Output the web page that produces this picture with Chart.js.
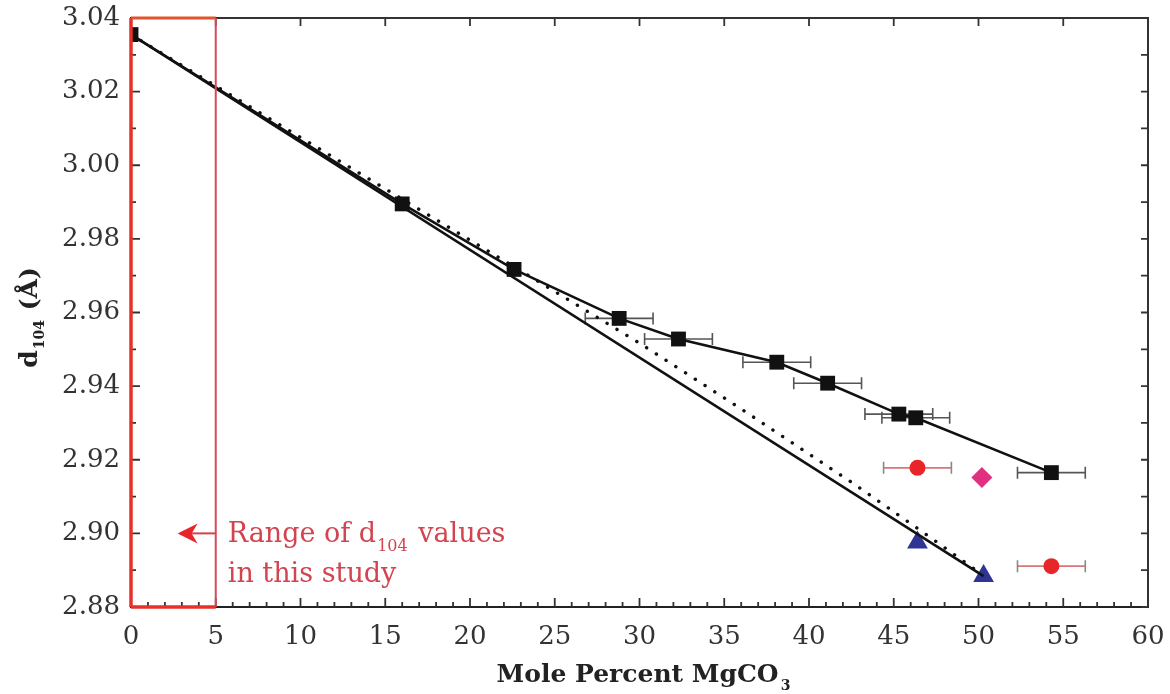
<!DOCTYPE html>
<html>
<head>
<meta charset="utf-8">
<title>d104 vs Mole Percent MgCO3</title>
<script src="https://cdn.jsdelivr.net/npm/chart.js@4/dist/chart.umd.min.js"></script>
<style>
  html, body { margin: 0; padding: 0; background: #fff; }
  #wrap { width: 1170px; height: 694px; }
</style>
</head>
<body>
<div id="wrap"><canvas id="chart" width="1170" height="694"></canvas></div>
<script>
// black squares (measured), with horizontal error (mol %)
const sqX = [0, 16.0, 22.6, 28.8, 32.3, 38.1, 41.1, 45.3, 46.3, 54.3];
const sqY = [3.0355, 2.9895, 2.9717, 2.9584, 2.9528, 2.9465, 2.9408, 2.9324, 2.9314, 2.9165];
const sqErr = [0, 0, 0, 2, 2, 2, 2, 2, 2, 2];

// red circles
const circX = [46.4, 54.3];
const circY = [2.9178, 2.8911];
const circErr = [2, 2];

// blue triangles
const triX = [46.4, 50.3];
const triY = [2.8975, 2.8884];

// magenta diamond
const diaX = [50.2];
const diaY = [2.9152];

// straight solid line (calcite -> dolomite end member)
const lineX = [0, 50.3];
const lineY = [3.0355, 2.8884];

// dotted curve
const dotX = [0, 16, 23.9, 30.1, 36.1, 42.6, 47.1, 50];
const dotY = [3.0355, 2.9908, 2.9688, 2.9514, 2.9335, 2.9136, 2.8991, 2.8895];

// axis ticks
const xTicks = [0, 5, 10, 15, 20, 25, 30, 35, 40, 45, 50, 55, 60];
const yTicks = [2.88, 2.90, 2.92, 2.94, 2.96, 2.98, 3.00, 3.02, 3.04];

const pts = (xs, ys) => xs.map((v, i) => ({ x: v, y: ys[i] }));

const SERIF = "'DejaVu Serif', 'Liberation Serif', serif";

// inner ticks, frame, red box, error bars
const decor = {
  id: 'decor',
  beforeDatasetsDraw(chart) {
    const { ctx, chartArea: a, scales: { x, y } } = chart;
    ctx.save();

    // top + right frame
    ctx.strokeStyle = '#333';
    ctx.lineWidth = 2;
    ctx.beginPath();
    ctx.moveTo(a.left, a.top);
    ctx.lineTo(a.right, a.top);
    ctx.lineTo(a.right, a.bottom);
    ctx.stroke();

    // x ticks: majors bottom+top, minors bottom
    ctx.lineWidth = 1.8;
    ctx.strokeStyle = '#333';
    ctx.beginPath();
    for (let v = xTicks[0]; v <= xTicks[xTicks.length - 1]; v += 1) {
      const px = x.getPixelForValue(v);
      const major = xTicks.includes(v);
      const len = major ? 9 : 5;
      ctx.moveTo(px, a.bottom);
      ctx.lineTo(px, a.bottom - len);
      if (major) {
        ctx.moveTo(px, a.top);
        ctx.lineTo(px, a.top + 8);
      }
    }
    // y ticks: majors + minors on both sides
    for (let i = 0; i < yTicks.length; i++) {
      const vals = [yTicks[i]];
      if (i < yTicks.length - 1) vals.push((yTicks[i] + yTicks[i + 1]) / 2);
      vals.forEach((v, k) => {
        const py = y.getPixelForValue(v);
        const len = k === 0 ? 9 : 5;
        ctx.moveTo(a.left, py);
        ctx.lineTo(a.left + len, py);
        ctx.moveTo(a.right, py);
        ctx.lineTo(a.right - 7, py);
      });
    }
    ctx.stroke();

    // error bars
    const bars = (xs, ys, es, lineCol, capCol) => {
      xs.forEach((v, i) => {
        if (!es[i]) return;
        const py = y.getPixelForValue(ys[i]);
        const l = x.getPixelForValue(v - es[i]);
        const r = x.getPixelForValue(v + es[i]);
        ctx.lineWidth = 1.6;
        ctx.strokeStyle = lineCol;
        ctx.beginPath();
        ctx.moveTo(l, py); ctx.lineTo(r, py);
        ctx.stroke();
        ctx.strokeStyle = capCol;
        ctx.beginPath();
        ctx.moveTo(l, py - 6); ctx.lineTo(l, py + 6);
        ctx.moveTo(r, py - 6); ctx.lineTo(r, py + 6);
        ctx.stroke();
      });
    };
    bars(sqX, sqY, sqErr, '#555', '#555');
    bars(circX, circY, circErr, '#d9767a', '#888');

    ctx.restore();
  },
  afterDatasetsDraw(chart) {
    const { ctx, chartArea: a, scales: { x, y } } = chart;
    ctx.save();
    // red box marking the studied range (0-5 mol %)
    const l = x.getPixelForValue(0), r = x.getPixelForValue(5);
    ctx.lineWidth = 2;
    ctx.strokeStyle = '#d9475a';
    ctx.beginPath();
    ctx.moveTo(r, a.top); ctx.lineTo(r, a.bottom);
    ctx.stroke();
    ctx.lineWidth = 3.5;
    ctx.strokeStyle = '#e8302a';
    ctx.beginPath();
    ctx.moveTo(l, a.top); ctx.lineTo(l, a.bottom);
    ctx.moveTo(l, a.bottom); ctx.lineTo(r, a.bottom);
    ctx.stroke();
    ctx.strokeStyle = '#e2542e';
    ctx.lineWidth = 3;
    ctx.beginPath();
    ctx.moveTo(l, a.top); ctx.lineTo(r, a.top);
    ctx.stroke();

    // arrow + label
    const ay = y.getPixelForValue(2.90);
    const tip = x.getPixelForValue(2.75);
    ctx.strokeStyle = '#d8404c';
    ctx.fillStyle = '#e8262a';
    ctx.lineWidth = 2;
    ctx.beginPath();
    ctx.moveTo(r, ay); ctx.lineTo(tip + 12, ay);
    ctx.stroke();
    ctx.beginPath();
    ctx.moveTo(tip, ay);
    ctx.lineTo(tip + 20, ay - 10);
    ctx.lineTo(tip + 14, ay);
    ctx.lineTo(tip + 20, ay + 10);
    ctx.closePath();
    ctx.fill();

    ctx.fillStyle = '#d2444f';
    ctx.textBaseline = 'alphabetic';
    ctx.textAlign = 'left';
    let tx = r + 12;
    const b1 = ay + 9, b2 = ay + 49;
    ctx.font = '27px ' + SERIF;
    ctx.fillText('Range of d', tx, b1);
    tx += ctx.measureText('Range of d').width + 1;
    ctx.font = '16px ' + SERIF;
    ctx.fillText('104', tx, b1 + 9);
    tx += ctx.measureText('104').width + 2;
    ctx.font = '27px ' + SERIF;
    ctx.fillText(' values', tx, b1);
    ctx.fillText('in this study', r + 12, b2);
    ctx.restore();
  },
  afterDraw(chart) {
    const { ctx, chartArea: a } = chart;
    ctx.save();
    ctx.fillStyle = '#222';
    ctx.textBaseline = 'alphabetic';
    ctx.textAlign = 'left';

    // x title with subscript
    const big = 'bold 25px ' + SERIF, small = 'bold 14px ' + SERIF;
    ctx.font = big;
    const w1 = ctx.measureText('Mole Percent MgCO').width;
    ctx.font = small;
    const w2 = ctx.measureText('3').width;
    let sx = (a.left + a.right) / 2 - (w1 + w2 + 2) / 2 + 4;
    ctx.font = big;
    ctx.fillText('Mole Percent MgCO', sx, 682);
    ctx.font = small;
    ctx.fillText('3', sx + w1 + 2, 690);

    // y title, rotated
    ctx.translate(37, (a.top + a.bottom) / 2 + 5);
    ctx.rotate(-Math.PI / 2);
    ctx.font = big;
    const d = ctx.measureText('d').width;
    const par = ctx.measureText(' (Å)').width;
    ctx.font = small;
    const sub = ctx.measureText('104').width;
    let ox = -(d + sub + par + 2) / 2;
    ctx.font = big;
    ctx.fillText('d', ox, 0);
    ctx.font = small;
    ctx.fillText('104', ox + d + 1, 7);
    ctx.font = big;
    ctx.fillText(' (Å)', ox + d + sub + 2, 0);
    ctx.restore();
  }
};

new Chart(document.getElementById('chart'), {
  type: 'scatter',
  data: {
    datasets: [
      {
        label: 'dotted',
        type: 'line',
        data: pts(dotX, dotY),
        borderColor: '#111',
        borderWidth: 3.4,
        borderDash: [0.1, 11.5],
        borderCapStyle: 'round',
        pointRadius: 0,
        fill: false
      },
      {
        label: 'straight',
        type: 'line',
        data: pts(lineX, lineY),
        borderColor: '#111',
        borderWidth: 2.6,
        pointRadius: 0,
        fill: false
      },
      {
        label: 'squares',
        type: 'line',
        data: pts(sqX, sqY),
        borderColor: '#111',
        borderWidth: 2.6,
        pointStyle: 'rect',
        pointRadius: 10.5,
        pointBackgroundColor: '#111',
        pointBorderColor: '#111',
        pointBorderWidth: 0,
        fill: false
      },
      {
        label: 'circles',
        data: pts(circX, circY),
        pointStyle: 'circle',
        pointRadius: 8,
        pointBackgroundColor: '#e8262a',
        pointBorderColor: '#e8262a',
        pointBorderWidth: 0
      },
      {
        label: 'triangles',
        data: pts(triX, triY),
        pointStyle: 'triangle',
        pointRadius: 12,
        pointBackgroundColor: '#2f3593',
        pointBorderColor: '#2f3593',
        pointBorderWidth: 0
      },
      {
        label: 'diamond',
        data: pts(diaX, diaY),
        pointStyle: 'rectRot',
        pointRadius: 10.5,
        pointBackgroundColor: '#e0307f',
        pointBorderColor: '#e0307f',
        pointBorderWidth: 0
      }
    ]
  },
  options: {
    responsive: false,
    animation: false,
    events: [],
    layout: { padding: { left: 0, top: 18, right: 22, bottom: 0 } },
    plugins: {
      legend: { display: false },
      tooltip: { enabled: false }
    },
    scales: {
      x: {
        type: 'linear',
        min: xTicks[0],
        max: xTicks[xTicks.length - 1],
        grid: { display: false, drawTicks: false },
        border: { display: true, color: '#222', width: 2 },
        ticks: {
          stepSize: 5,
          padding: 15,
          color: '#333',
          font: { family: SERIF, size: 26 },
          maxRotation: 0
        },
        afterFit(s) { s.height = 87; s.paddingLeft = 0; s.paddingRight = 0; }
      },
      y: {
        type: 'linear',
        min: yTicks[0],
        max: yTicks[yTicks.length - 1],
        grid: { display: false, drawTicks: false },
        border: { display: true, color: '#222', width: 2 },
        ticks: {
          stepSize: 0.02,
          padding: 11,
          color: '#333',
          font: { family: SERIF, size: 26 },
          callback: v => v.toFixed(2)
        },
        afterFit(s) { s.width = 131; s.paddingTop = 0; s.paddingBottom = 0; }
      }
    }
  },
  plugins: [decor]
});
</script>
</body>
</html>
